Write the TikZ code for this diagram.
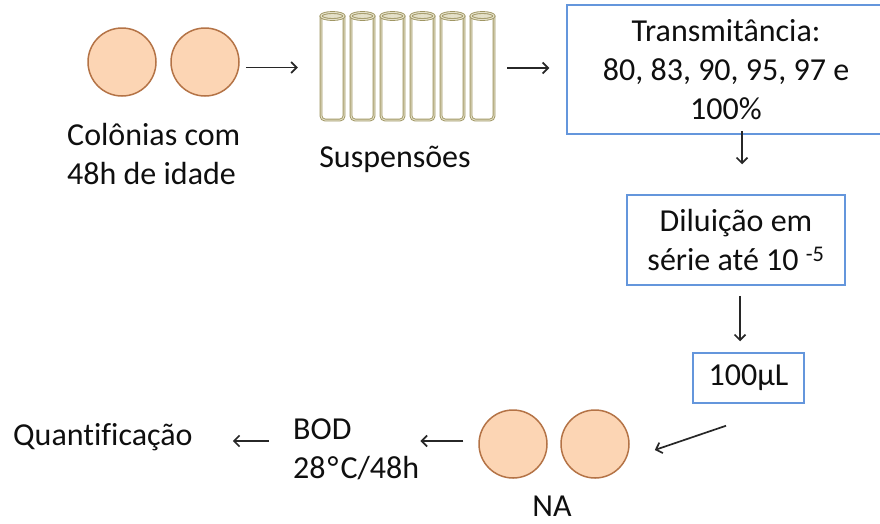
\documentclass[tikz,border=0pt]{standalone}
\usepackage{fontspec}
\setmainfont{Carlito}[Ligatures=NoCommon]
\usetikzlibrary{arrows.meta}
\definecolor{txt}{RGB}{15,15,15}
\definecolor{colfill}{RGB}{252,213,180}
\definecolor{coledge}{RGB}{180,115,70}
\definecolor{boxedge}{RGB}{100,150,220}
\definecolor{tubeedge}{RGB}{160,150,100}
\definecolor{tubelight}{RGB}{228,224,200}
\begin{document}
\begin{tikzpicture}[x=1pt,y=-1pt,
  lbl/.style={font=\fontsize{32}{39}\selectfont, text=txt, inner sep=0pt},
  colony/.style={circle, fill=colfill, draw=coledge, line width=1.5pt, minimum size=68pt, inner sep=0pt},
  stepbox/.style={draw=boxedge, line width=1.5pt, align=center, font=\fontsize{32}{39}\selectfont, text=txt, inner sep=0pt},
  arr/.style={draw=txt!90, line width=1.7pt, -{Straight Barb[length=5.5pt,width=11pt]}},
  tube/.style={draw=tubeedge, double=tubelight, double distance=1pt, line width=0.9pt}]
\useasboundingbox (0,0) rectangle (880,523);
\clip (0,0) rectangle (880,523);

% colonies, 48 h old
\node[colony] (c1) at (122,62) {};
\node[colony] (c2) at (205,62) {};
\node[lbl, anchor=base west, align=left] (colonias) at (67,184) {Colônias com\\48h de idade};

% suspension tubes
\node[minimum width=173pt, minimum height=110pt, inner sep=0pt] (tubes) at (407.5,68) {};
\foreach \k in {0,...,5} {
  \pgfmathsetmacro{\xo}{321+30*\k}
  \draw[tube, rounded corners=4pt] (\xo,16) -- (\xo,120) -- (\xo+23,120) -- (\xo+23,16);
  \draw[tube, fill=tubelight] (\xo+11.5,16) ellipse [x radius=11.5, y radius=3.5];
}
\node[lbl, anchor=base] (susp) at (395,167) {Suspensões};

% process boxes
\node[stepbox, minimum width=318pt, minimum height=129pt] (box1) at (726,69.5)
  {Transmitância:\\80, 83, 90, 95, 97 e\\100\%};
\node[stepbox, minimum width=218pt, minimum height=90pt] (box2) at (736,240)
  {Diluição em\\série até 10 \textsuperscript{-5}};
\node[stepbox, minimum width=111pt, minimum height=50pt] (box3) at (748.5,378) {100µL};

% plated colonies
\node[colony] (n1) at (513,444) {};
\node[colony] (n2) at (595,444) {};
\node[lbl, anchor=base] (na) at (552,516) {NA};

% incubation and counting
\node[lbl, anchor=base west, align=left] (bod) at (293,478) {BOD\\28\kern2pt°\kern2pt C/48h};
\node[lbl, anchor=base west] (quant) at (13,445) {Quantificação};

% connectors
\draw[arr] ([shift={(6,5.5)}]c2.east) -- ([shift={(-23,-0.5)}]tubes.west);
\draw[arr] ([xshift=13pt]tubes.east) -- ([shift={(-17,-1.5)}]box1.west);
\draw[arr] ([xshift=16pt,yshift=4pt]box1.south) -- ([xshift=6pt,yshift=30pt]box2.north);
\draw[arr] ([xshift=4pt,yshift=-10pt]box2.south) -- ([xshift=-8.5pt,yshift=11pt]box3.north);
\draw[arr] ([xshift=-22.5pt,yshift=-22pt]box3.south) -- ([xshift=25pt,yshift=-6pt]n2.east);
\draw[arr] ([xshift=-15pt,yshift=3pt]n1.west) -- ([xshift=1pt,yshift=3pt]n1.west -| bod.east);
\draw[arr] ([xshift=-24pt,yshift=3pt]n1.west -| bod.west) -- ([xshift=40pt,yshift=3pt]n1.west -| quant.east);
\end{tikzpicture}
\end{document}
